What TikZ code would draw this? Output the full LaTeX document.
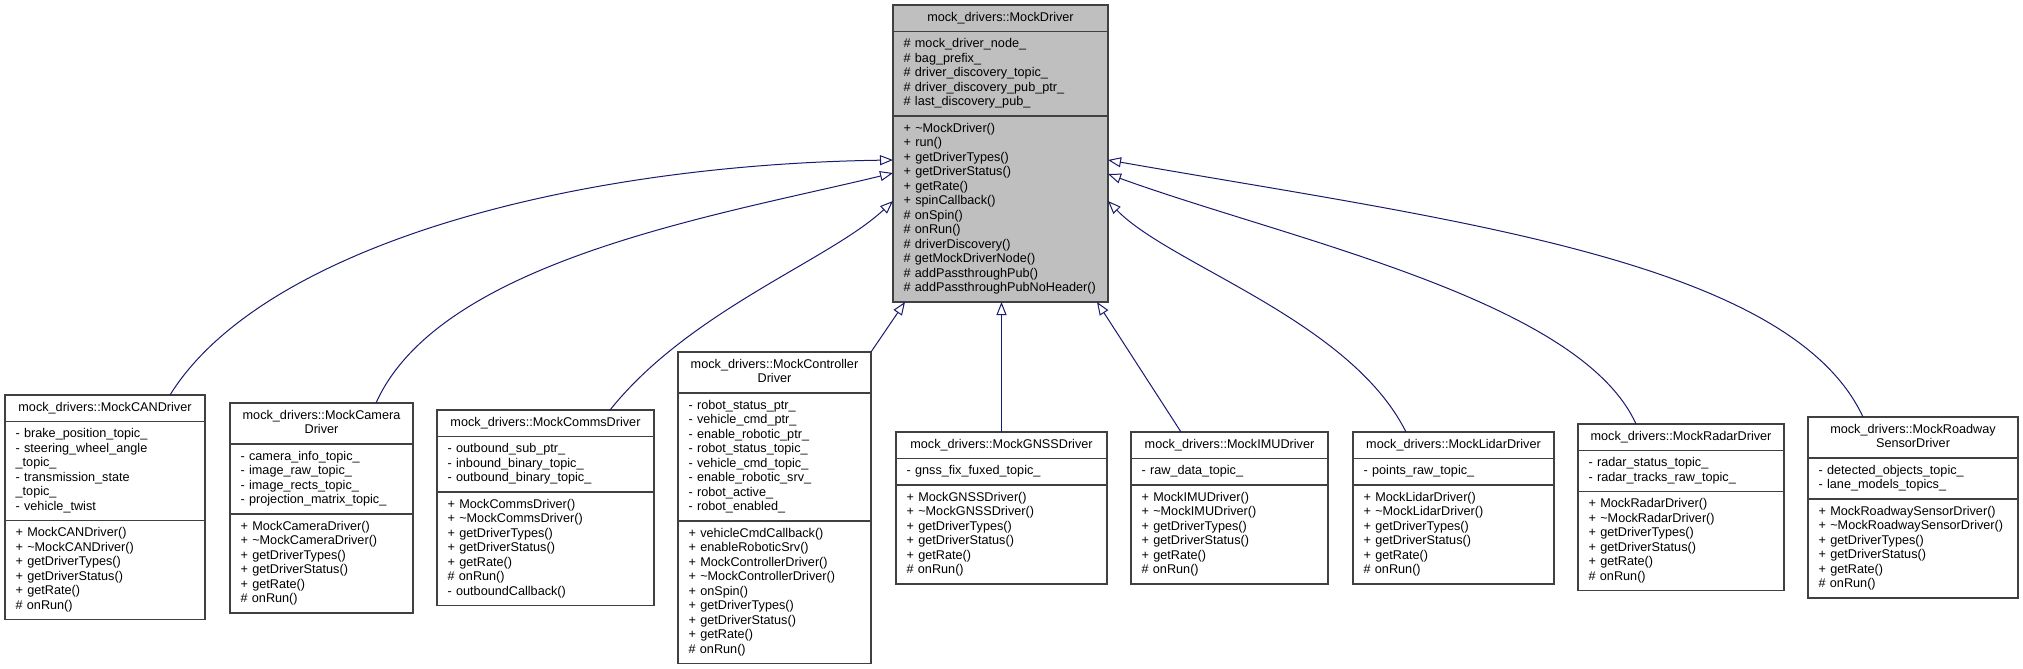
\documentclass[tikz,border=0pt]{standalone}
\usepackage{fontspec}
\setmainfont{Liberation Sans}
\usepackage{tikz}
\usetikzlibrary{positioning, arrows.meta, calc}
\setlength{\parindent}{0pt}
\definecolor{edgeblue}{RGB}{25,25,112}
\definecolor{boxline}{RGB}{64,64,64}
\definecolor{basegray}{RGB}{191,191,191}
\newcommand{\dxfont}{\fontsize{9.5pt}{10.875pt}\selectfont}

\begin{document}
\begin{tikzpicture}[x=0.75pt, y=-0.75pt,
    cellbox/.style={draw=boxline, line width=1pt, inner ysep=4.5pt, outer sep=0pt, font=\dxfont,
      execute at begin node=\strut, execute at end node=\strut},
    clsname/.style={cellbox, inner xsep=2pt, align=center, anchor=north west, text width=#1-4pt},
    members/.style 2 args={cellbox, inner xsep=8pt, align=left, below=0pt of #1, text width=#2-16pt},
    inherit/.style={draw=edgeblue, line width=0.75pt, -{Triangle[open, length=9.75pt, width=7.5pt]}}
  ]
  \path[use as bounding box, fill=white] (0,0) rectangle (2023,668);

  % Base class (gray)
  \node[clsname=161.25pt, fill=basegray] (base) at (893,5) {mock\_drivers::MockDriver};
  \node[members={base}{161.25pt}, fill=basegray] (base-a) {\# mock\_driver\_node\_\\ \# bag\_prefix\_\\ \# driver\_discovery\_topic\_\\ \# driver\_discovery\_pub\_ptr\_\\ \# last\_discovery\_pub\_};
  \node[members={base-a}{161.25pt}, fill=basegray] (base-o) {+ \textasciitilde MockDriver()\\ + run()\\ + getDriverTypes()\\ + getDriverStatus()\\ + getRate()\\ + spinCallback()\\ \# onSpin()\\ \# onRun()\\ \# driverDiscovery()\\ \# getMockDriverNode()\\ \# addPassthroughPub()\\ \# addPassthroughPubNoHeader()};

  % Derived classes, left to right
  \node[clsname=150pt] (can) at (5,395) {mock\_drivers::MockCANDriver};
  \node[members={can}{150pt}] (can-a) {- brake\_position\_topic\_\\ - steering\_wheel\_angle\\ \_topic\_\\ - transmission\_state\\ \_topic\_\\ - vehicle\_twist};
  \node[members={can-a}{150pt}] (can-o) {+ MockCANDriver()\\ + \textasciitilde MockCANDriver()\\ + getDriverTypes()\\ + getDriverStatus()\\ + getRate()\\ \# onRun()};

  \node[clsname=137.25pt] (cam) at (230,403) {mock\_drivers::MockCamera\\ Driver};
  \node[members={cam}{137.25pt}] (cam-a) {- camera\_info\_topic\_\\ - image\_raw\_topic\_\\ - image\_rects\_topic\_\\ - projection\_matrix\_topic\_};
  \node[members={cam-a}{137.25pt}] (cam-o) {+ MockCameraDriver()\\ + \textasciitilde MockCameraDriver()\\ + getDriverTypes()\\ + getDriverStatus()\\ + getRate()\\ \# onRun()};

  \node[clsname=162.75pt] (comms) at (437,410) {mock\_drivers::MockCommsDriver};
  \node[members={comms}{162.75pt}] (comms-a) {- outbound\_sub\_ptr\_\\ - inbound\_binary\_topic\_\\ - outbound\_binary\_topic\_};
  \node[members={comms-a}{162.75pt}] (comms-o) {+ MockCommsDriver()\\ + \textasciitilde MockCommsDriver()\\ + getDriverTypes()\\ + getDriverStatus()\\ + getRate()\\ \# onRun()\\ - outboundCallback()};

  \node[clsname=144.75pt] (ctrl) at (678,352) {mock\_drivers::MockController\\ Driver};
  \node[members={ctrl}{144.75pt}] (ctrl-a) {- robot\_status\_ptr\_\\ - vehicle\_cmd\_ptr\_\\ - enable\_robotic\_ptr\_\\ - robot\_status\_topic\_\\ - vehicle\_cmd\_topic\_\\ - enable\_robotic\_srv\_\\ - robot\_active\_\\ - robot\_enabled\_};
  \node[members={ctrl-a}{144.75pt}] (ctrl-o) {+ vehicleCmdCallback()\\ + enableRoboticSrv()\\ + MockControllerDriver()\\ + \textasciitilde MockControllerDriver()\\ + onSpin()\\ + getDriverTypes()\\ + getDriverStatus()\\ + getRate()\\ \# onRun()};

  \node[clsname=158.25pt] (gnss) at (896,432) {mock\_drivers::MockGNSSDriver};
  \node[members={gnss}{158.25pt}] (gnss-a) {- gnss\_fix\_fuxed\_topic\_};
  \node[members={gnss-a}{158.25pt}] (gnss-o) {+ MockGNSSDriver()\\ + \textasciitilde MockGNSSDriver()\\ + getDriverTypes()\\ + getDriverStatus()\\ + getRate()\\ \# onRun()};

  \node[clsname=147.75pt] (imu) at (1131,432) {mock\_drivers::MockIMUDriver};
  \node[members={imu}{147.75pt}] (imu-a) {- raw\_data\_topic\_};
  \node[members={imu-a}{147.75pt}] (imu-o) {+ MockIMUDriver()\\ + \textasciitilde MockIMUDriver()\\ + getDriverTypes()\\ + getDriverStatus()\\ + getRate()\\ \# onRun()};

  \node[clsname=150.75pt] (lidar) at (1353,432) {mock\_drivers::MockLidarDriver};
  \node[members={lidar}{150.75pt}] (lidar-a) {- points\_raw\_topic\_};
  \node[members={lidar-a}{150.75pt}] (lidar-o) {+ MockLidarDriver()\\ + \textasciitilde MockLidarDriver()\\ + getDriverTypes()\\ + getDriverStatus()\\ + getRate()\\ \# onRun()};

  \node[clsname=154.5pt] (radar) at (1578,424) {mock\_drivers::MockRadarDriver};
  \node[members={radar}{154.5pt}] (radar-a) {- radar\_status\_topic\_\\ - radar\_tracks\_raw\_topic\_};
  \node[members={radar-a}{154.5pt}] (radar-o) {+ MockRadarDriver()\\ + \textasciitilde MockRadarDriver()\\ + getDriverTypes()\\ + getDriverStatus()\\ + getRate()\\ \# onRun()};

  \node[clsname=157.5pt] (road) at (1808,417) {mock\_drivers::MockRoadway\\ SensorDriver};
  \node[members={road}{157.5pt}] (road-a) {- detected\_objects\_topic\_\\ - lane\_models\_topics\_};
  \node[members={road-a}{157.5pt}] (road-o) {+ MockRoadwaySensorDriver()\\ + \textasciitilde MockRoadwaySensorDriver()\\ + getDriverTypes()\\ + getDriverStatus()\\ + getRate()\\ \# onRun()};

  % Inheritance edges into the left side of the base
  \draw[inherit] ($(can.north west)+(165,0)$) .. controls (260,250) and (560,165) .. ($(base-o.north west)+(0,44)$);
  \draw[inherit] ($(cam.north west)+(146,0)$) .. controls (440,260) and (720,215) .. ($(base-o.north west)+(0,57)$);
  \draw[inherit] ($(comms.north west)+(173,0)$) .. controls (690,310) and (830,260) .. ($(base-o.north west)+(0,85)$);

  % Edges into the bottom of the base
  \draw[inherit] (ctrl.north east) -- ($(base-o.south west)+(12,0)$);
  \draw[inherit] (gnss.north) -- (gnss.north |- base-o.south);
  \draw[inherit] ($(imu.north west)+(50,0)$) -- ($(base-o.south east)+(-11,0)$);

  % Edges into the right side of the base
  \draw[inherit] ($(lidar.north west)+(53,0)$) .. controls (1350,320) and (1170,265) .. ($(base-o.north east)+(0,85)$);
  \draw[inherit] ($(radar.north west)+(58,0)$) .. controls (1580,300) and (1290,240) .. ($(base-o.north east)+(0,58)$);
  \draw[inherit] ($(road.north west)+(55,0)$) .. controls (1790,260) and (1450,220) .. ($(base-o.north east)+(0,44)$);
\end{tikzpicture}
\end{document}
